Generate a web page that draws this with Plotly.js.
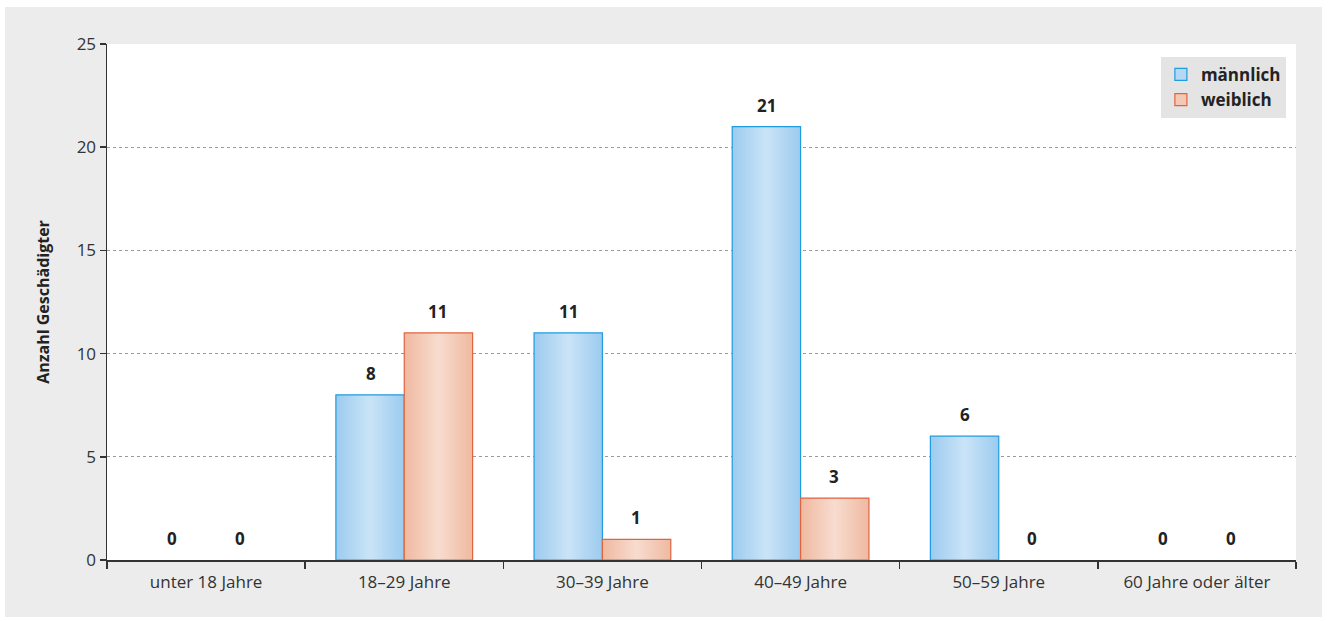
<!DOCTYPE html>
<html>
<head>
<meta charset="utf-8">
<script src="https://cdn.plot.ly/plotly-3.0.1.min.js"></script>
<style>
  html, body { margin: 0; padding: 0; background: #ffffff; }
  #chart { position: absolute; left: 5px; top: 7px; width: 1317px; height: 610px; }
</style>
</head>
<body>
<div id="chart"></div>
<script>
const categories = ["unter 18 Jahre", "18–29 Jahre", "30–39 Jahre", "40–49 Jahre", "50–59 Jahre", "60 Jahre oder älter"];
const maleValues = [0, 8, 11, 21, 6, 0];
const femaleValues = [0, 11, 1, 3, 0, 0];
const yTickValues = [0, 5, 10, 15, 20, 25];

const FONT = "Open Sans, Noto Sans, sans-serif";

function makeTrace(name, values, fill, border) {
  return {
    type: "bar", name: name, x: categories, y: values,
    marker: { color: fill, line: { color: border, width: 1.2 } },
    hoverinfo: "none"
  };
}
const traceMale = makeTrace("männlich", maleValues, "#b6d9f3", "#1f9be0");
const traceFemale = makeTrace("weiblich", femaleValues, "#f3c8b4", "#e0643e");

// value labels from the data, placed above each bar
const annotations = [];
[[maleValues, -0.17], [femaleValues, 0.17]].forEach(function (pair) {
  pair[0].forEach(function (v, i) {
    annotations.push({
      x: i + pair[1], y: v, xref: "x", yref: "y",
      text: String(v), showarrow: false, yanchor: "bottom", yshift: 8,
      font: { family: FONT, size: 17, color: "#222222", weight: "bold" }
    });
  });
});

const layout = {
  width: 1317, height: 610,
  margin: { l: 102, r: 26, t: 37, b: 57 },
  paper_bgcolor: "#ebeceb",
  plot_bgcolor: "#ffffff",
  barmode: "group",
  bargap: 0.31,
  bargroupgap: 0,
  font: { family: FONT, size: 16, color: "#333333" },
  showlegend: true,
  annotations: annotations,
  legend: {
    x: 0.9915, y: 0.975, xanchor: "right", yanchor: "top",
    bgcolor: "#e3e4e3", borderwidth: 0,
    font: { family: FONT, size: 17, color: "#222222", weight: "bold" },
    itemwidth: 30, tracegroupgap: 2
  },
  xaxis: {
    type: "category",
    showline: true, linecolor: "#333333", linewidth: 1.5,
    ticks: "outside", tickson: "boundaries", ticklen: 7, tickcolor: "#333333", tickwidth: 1.5,
    ticklabelstandoff: 6,
    tickfont: { family: FONT, size: 17, color: "#333333" },
    showgrid: false, zeroline: false, fixedrange: true
  },
  yaxis: {
    range: [0, 25], tickvals: yTickValues, ticktext: yTickValues.map(String),
    showline: true, linecolor: "#333333", linewidth: 1.5,
    ticks: "outside", ticklen: 6, tickcolor: "#333333", tickwidth: 1.5,
    tickfont: { family: FONT, size: 17, color: "#333333" },
    showgrid: true, gridcolor: "#9a9a9a", griddash: "dot", gridwidth: 1,
    zeroline: false, fixedrange: true,
    title: { text: "Anzahl Geschädigter", font: { family: FONT, size: 16, color: "#222222", weight: "bold" }, standoff: 23 }
  }
};

Plotly.newPlot("chart", [traceMale, traceFemale], layout, { staticPlot: true, displayModeBar: false }).then(function (gd) {
  const svg = gd.querySelector("svg.main-svg");
  const ns = "http://www.w3.org/2000/svg";
  let defs = svg.querySelector("defs");
  if (!defs) { defs = document.createElementNS(ns, "defs"); svg.insertBefore(defs, svg.firstChild); }
  function addGrad(id, edge, mid) {
    const g = document.createElementNS(ns, "linearGradient");
    g.setAttribute("id", id);
    g.setAttribute("x1", "0"); g.setAttribute("y1", "0");
    g.setAttribute("x2", "1"); g.setAttribute("y2", "0");
    [[0, edge], [0.5, mid], [1, edge]].forEach(function (s) {
      const st = document.createElementNS(ns, "stop");
      st.setAttribute("offset", s[0]);
      st.setAttribute("stop-color", s[1]);
      g.appendChild(st);
    });
    defs.appendChild(g);
  }
  addGrad("gradMale", "#9ccbef", "#cae4f7");
  addGrad("gradFemale", "#efb9a1", "#f8dccf");
  const seriesValues = [maleValues, femaleValues];
  const traces = gd.querySelectorAll(".barlayer .trace.bars");
  traces.forEach(function (t, i) {
    t.querySelectorAll(".point").forEach(function (pt, j) {
      const p = pt.querySelector("path");
      if (!p) return;
      p.style.fill = i === 0 ? "url(#gradMale)" : "url(#gradFemale)";
      if (seriesValues[i][j] === 0) p.style.strokeWidth = "0";
    });
  });
});
</script>
</body>
</html>
